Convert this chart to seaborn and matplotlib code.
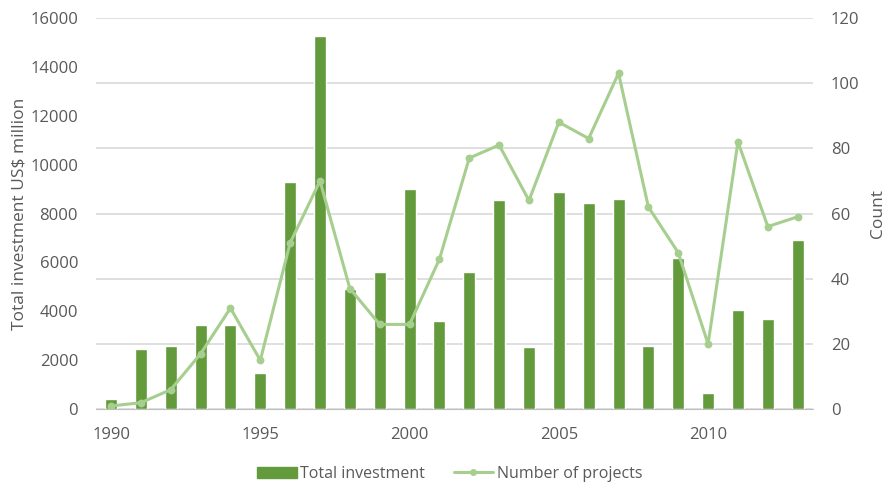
#! /usr/bin/env python
"""
Total investment and number of projects by year
"""

import pandas as pd
import seaborn as sns
import matplotlib.pyplot as plt
from matplotlib.lines import Line2D
from matplotlib.patches import Patch

years = list(range(1990, 2014))
investment = [400, 2450, 2600, 3450, 3450, 1500, 9300, 15250, 4900, 5600,
              9000, 3600, 5600, 8550, 2550, 8880, 8430, 8600, 2600, 6200,
              650, 4050, 3700, 6900]
projects = [1, 2, 6, 17, 31, 15, 51, 70, 37, 26, 26, 46, 77, 81, 64, 88,
            83, 103, 62, 48, 20, 82, 56, 59]

BAR_COLOR = "#629a3c"
LINE_COLOR = "#a6cf8f"
TEXT_COLOR = "#595959"
GRID_COLOR = "#d9d9d9"


def run() -> None:
    df = pd.DataFrame({"Year": years, "Investment": investment, "Projects": projects})

    sns.set_style("white")
    plt.rcParams["font.family"] = ["Open Sans", "DejaVu Sans"]

    fig = plt.figure(figsize=(8.9, 4.82), dpi=100)
    ax = fig.add_axes([0.108, 0.151, 0.805, 0.812])
    ax2 = ax.twinx()

    # right axis carries the gridlines, drawn behind the bars
    ax2.set_zorder(0)
    ax.set_zorder(1)
    ax.patch.set_visible(False)

    sns.barplot(data=df, x="Year", y="Investment", color=BAR_COLOR,
                width=0.4, saturation=1, ax=ax)

    ax2.set_ylim(0, 120)
    ax2.set_yticks(range(0, 121, 20))
    ax2.yaxis.grid(True, color=GRID_COLOR, linewidth=1.2)
    ax2.set_axisbelow(True)

    # line drawn on top of bars via a third overlay axes sharing x
    ax3 = ax.twinx()
    ax3.set_zorder(2)
    ax3.patch.set_visible(False)
    sns.pointplot(data=df, x="Year", y="Projects", color=LINE_COLOR,
                  markersize=4, linewidth=2.2, ax=ax3)
    ax3.set_ylim(0, 120)
    ax3.axis("off")

    ax.set_ylim(0, 16000)
    ax.set_yticks(range(0, 16001, 2000))
    ax.set_xlim(-0.5, len(years) - 0.5)
    ax2.set_xlim(-0.5, len(years) - 0.5)
    ax3.set_xlim(-0.5, len(years) - 0.5)

    label_pos = [i for i, y in enumerate(years) if y % 5 == 0]
    ax.set_xticks(label_pos)
    ax.set_xticklabels([str(years[i]) for i in label_pos])
    ax.set_xticks([i - 0.5 for i in range(len(years) + 1)], minor=True)
    ax.tick_params(axis="x", which="major", length=0, pad=13,
                   labelsize=12, labelcolor=TEXT_COLOR)
    ax.tick_params(axis="x", which="minor", length=5, color="#bfbfbf",
                   direction="out")
    ax.tick_params(axis="y", length=0, pad=13, labelsize=12,
                   labelcolor=TEXT_COLOR)
    ax2.tick_params(axis="y", length=0, pad=13, labelsize=12,
                    labelcolor=TEXT_COLOR)

    for a in (ax, ax2):
        for side in ("top", "left", "right"):
            a.spines[side].set_visible(False)
    ax.spines["bottom"].set_color("#bfbfbf")
    ax2.spines["bottom"].set_visible(False)

    ax.set_xlabel("")
    ax.set_ylabel("Total investment US$ million", fontsize=12.5,
                  color=TEXT_COLOR, labelpad=2)
    ax2.set_ylabel("Count", fontsize=12.5, color=TEXT_COLOR, labelpad=8)

    handles = [
        Patch(facecolor=BAR_COLOR, edgecolor=BAR_COLOR, label="Total investment"),
        Line2D([], [], color=LINE_COLOR, linewidth=2.2, marker="o",
               markersize=4, label="Number of projects"),
    ]
    fig.legend(handles=handles, loc="lower center", ncol=2,
               bbox_to_anchor=(0.505, -0.03), frameon=False, fontsize=11.5,
               labelcolor=TEXT_COLOR, columnspacing=1.8, handlelength=2.5,
               handletextpad=0.2)

    fig.savefig("out.png", dpi=100)


if __name__ == "__main__":
    run()
